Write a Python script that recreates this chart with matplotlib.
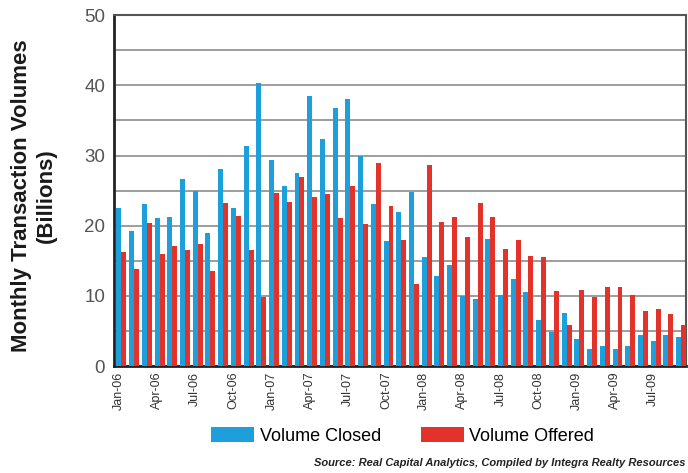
import matplotlib.pyplot as plt
import numpy as np

# monthly volumes, Jan-06 through Sep-09 ($ billions)
months = ["Jan-06", "Feb-06", "Mar-06", "Apr-06", "May-06", "Jun-06", "Jul-06", "Aug-06", "Sep-06",
          "Oct-06", "Nov-06", "Dec-06", "Jan-07", "Feb-07", "Mar-07", "Apr-07", "May-07", "Jun-07",
          "Jul-07", "Aug-07", "Sep-07", "Oct-07", "Nov-07", "Dec-07", "Jan-08", "Feb-08", "Mar-08",
          "Apr-08", "May-08", "Jun-08", "Jul-08", "Aug-08", "Sep-08", "Oct-08", "Nov-08", "Dec-08",
          "Jan-09", "Feb-09", "Mar-09", "Apr-09", "May-09", "Jun-09", "Jul-09", "Aug-09", "Sep-09"]

volume_closed = [22.5, 19.3, 23.1, 21.1, 21.2, 26.7, 25.0, 18.9, 28.1,
                 22.5, 31.3, 40.3, 29.3, 25.6, 27.5, 38.5, 32.4, 36.7,
                 38.0, 30.0, 23.1, 17.8, 22.0, 24.8, 15.5, 12.9, 14.4,
                 10.0, 9.6, 18.1, 10.1, 12.4, 10.6, 6.6, 4.8, 7.6,
                 3.8, 2.5, 2.9, 2.5, 2.9, 4.5, 3.6, 4.4, 4.1]

volume_offered = [16.3, 13.9, 20.4, 16.0, 17.1, 16.6, 17.4, 13.6, 23.3,
                  21.4, 16.5, 9.8, 24.7, 23.4, 26.9, 24.1, 24.5, 21.1,
                  25.7, 20.3, 29.0, 22.8, 17.9, 11.7, 28.7, 20.6, 21.2,
                  18.4, 23.2, 21.2, 16.7, 17.9, 15.7, 15.6, 10.7, 5.9,
                  10.9, 9.9, 11.2, 11.3, 10.1, 7.8, 8.2, 7.4, 5.9]

blue = "#1d9fdc"
red = "#e3322a"

plt.rcParams['font.family'] = ['Liberation Sans', 'DejaVu Sans']

fig = plt.figure(figsize=(6.88, 4.73), dpi=100)
ax = fig.add_axes([0.165, 0.226, 0.832, 0.742])

x = np.arange(len(months))
w = 0.39
ax.bar(x - w / 2, volume_closed, width=w, color=blue, label="Volume Closed", zorder=3)
ax.bar(x + w / 2, volume_offered, width=w, color=red, label="Volume Offered", zorder=3)

ax.set_xlim(-0.62, len(months) - 0.62)
ax.set_ylim(0, 50)
ax.set_yticks([0, 10, 20, 30, 40, 50])
ax.set_yticks(np.arange(5, 50, 10), minor=True)
ax.grid(True, axis='y', which='both', color='#8c8c8c', linewidth=1.2, zorder=0)

ticks = x[::3]
ax.set_xticks(ticks - w / 2)
ax.set_xticklabels(months[::3], rotation=90, fontsize=9, color='#333333')
ax.tick_params(axis='x', length=0, pad=4)
ax.tick_params(axis='y', which='both', length=0, labelsize=13.5, labelcolor='#555555', pad=6)

for side in ['top', 'right']:
    ax.spines[side].set_color('#555555')
    ax.spines[side].set_linewidth(1.5)
for side in ['left', 'bottom']:
    ax.spines[side].set_color('#222222')
    ax.spines[side].set_linewidth(2)

# two-line axis title, placed in figure coordinates
fig.text(0.049, 0.586, "Monthly Transaction Volumes\n(Billions)", rotation=90,
         ha='center', va='center', multialignment='center', fontsize=16, fontweight='bold',
         color='#1a1a1a', linespacing=1.25)

fig.legend(loc='center', bbox_to_anchor=(0.585, 0.078), ncol=2, frameon=False, fontsize=13,
           handlelength=2.4, handleheight=0.9, handletextpad=0.3, columnspacing=2.2)

fig.text(0.996, 0.022, "Source: Real Capital Analytics, Compiled by Integra Realty Resources",
         ha='right', va='center', fontsize=8, style='italic', fontweight='bold',
         color='#222222')

fig.savefig("out.png", dpi=100, facecolor='white')
